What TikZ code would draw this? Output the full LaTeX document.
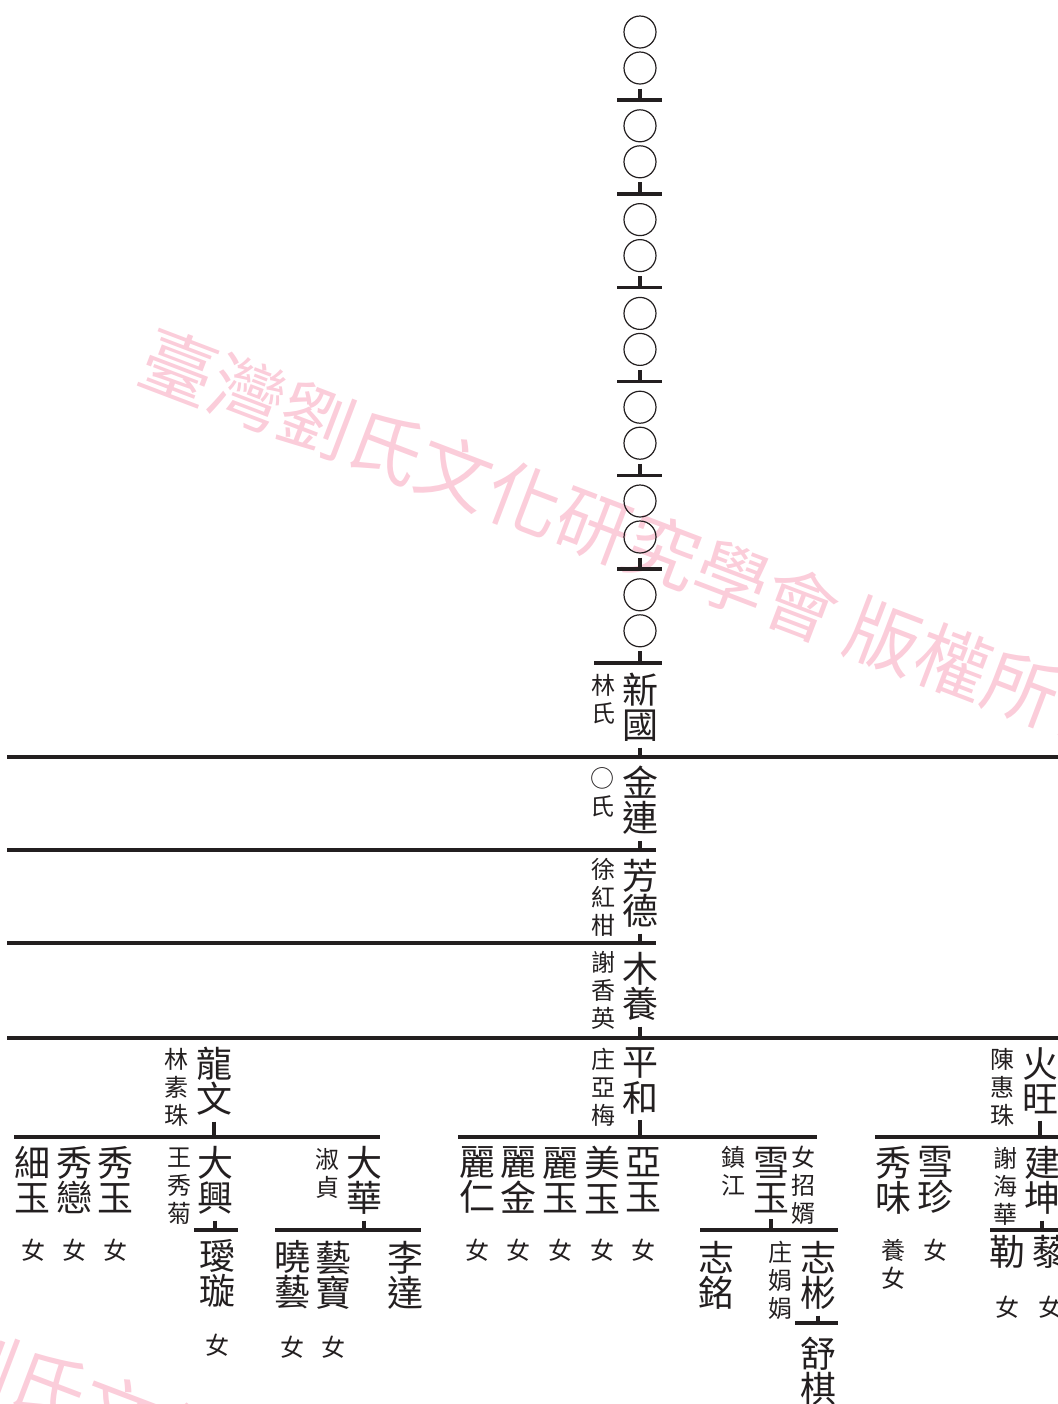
\documentclass[tikz,border=0pt]{standalone}
\usepackage{fontspec}
\setmainfont{Noto Sans CJK TC}
\usetikzlibrary{calc}
\definecolor{wmpink}{RGB}{251,205,218}
\definecolor{inkblack}{RGB}{35,31,32}
\tikzset{
    person/.style={font=\fontsize{18}{17.6}\selectfont, align=center, inner sep=1pt, text=inkblack},
    mate/.style={font=\fontsize{12}{14}\selectfont, align=center, inner sep=1pt, text=inkblack},
    ring/.style={circle, draw=inkblack, line width=0.6pt, minimum size=16pt, inner sep=0pt},
    genline/.style={draw=inkblack, line width=1.7pt},
    stem/.style={draw=inkblack, line width=1.7pt, shorten <=2pt},
    wmark/.style={font=\fontsize{37}{37}\selectfont, text=wmpink, rotate=-20.85, anchor=west, inner sep=0pt},
}

\begin{document}
\begin{tikzpicture}[x=0.5pt, y=-0.5pt]
\useasboundingbox (0,0) rectangle (1058,1404);
\clip (0,0) rectangle (1058,1404);

% watermark
\node[wmark] (wm1) at (144,354) {臺灣劉氏文化研究學會\hspace{0.2em}版權所有};
\node[wmark] (wm2) at (-193,1294) {臺灣劉氏文化研究學會\hspace{0.2em}版權所有};

% unknown ancestors
\foreach \k in {0,...,6} {
    \pgfmathsetmacro\by{100+93.8*\k}
    \pgfmathsetmacro\bx{ifthenelse(\k==6,594,617)}
    \node[ring] (ca\k) at (640,\by-68) {};
    \node[ring] (cb\k) at (640,\by-32) {};
    \coordinate (bl\k) at (\bx,\by);
    \coordinate (br\k) at (662,\by);
    \draw[genline] (bl\k) -- (br\k);
    \draw[stem] (cb\k) -- (cb\k |- bl\k);
}

% main line
\node[person] (xinguo) at (640,707) {新\\國};
\node[mate] (linshi) at (603,699) {林\\氏};
\coordinate (g1l) at (7,757); \coordinate (g1r) at (1060,757);
\draw[genline] (g1l) -- (g1r);
\draw[stem] (xinguo) -- (xinguo |- g1l);

\node[person] (jinlian) at (640,800) {金\\連};
\node[mate] (moushi) at (602,792) {○\\氏};
\coordinate (g2l) at (7,850); \coordinate (g2r) at (656,850);
\draw[genline] (g2l) -- (g2r);
\draw[stem] (jinlian) -- (jinlian |- g2l);

\node[person] (fangde) at (640,893) {芳\\德};
\node[mate] (xuhonggan) at (603,897) {徐\\紅\\柑};
\coordinate (g3l) at (7,943); \coordinate (g3r) at (656,943);
\draw[genline] (g3l) -- (g3r);
\draw[stem] (fangde) -- (fangde |- g3l);

\node[person] (muyang) at (640,986) {木\\養};
\node[mate] (xiexiangying) at (603,990) {謝\\香\\英};
\coordinate (g4l) at (7,1038); \coordinate (g4r) at (1060,1038);
\draw[genline] (g4l) -- (g4r);
\draw[stem] (muyang) -- (muyang |- g4l);

% longwen branch
\node[person] (longwen) at (214,1081) {龍\\文};
\node[mate] (linsuzhu) at (176,1087) {林\\素\\珠};
\coordinate (f1l) at (14,1137); \coordinate (f1r) at (380,1137);
\draw[genline] (f1l) -- (f1r);
\draw[stem] (longwen) -- (longwen |- f1l);

\node[person] (xiyu) at (33,1180) {細\\玉};
\node[person] (xiulian) at (74,1180) {秀\\戀};
\node[person] (xiuyu) at (115,1180) {秀\\玉};
\node[mate] (nv1) at (33,1250) {女};
\node[mate] (nv2) at (74,1250) {女};
\node[mate] (nv3) at (115,1250) {女};

\node[person] (daxing) at (215,1180) {大\\興};
\node[mate] (wangxiuju) at (179,1186) {王\\秀\\菊};
\coordinate (h1l) at (194,1230); \coordinate (h1r) at (238,1230);
\draw[genline] (h1l) -- (h1r);
\draw[stem] (daxing) -- (daxing |- h1l);
\node[person] (aixuan) at (217,1273) {璦\\璇};
\node[mate] (nv4) at (217,1345) {女};

\node[person] (dahua) at (364,1180) {大\\華};
\node[mate] (shuzhen) at (327,1173) {淑\\貞};
\coordinate (h2l) at (275,1230); \coordinate (h2r) at (421,1230);
\draw[genline] (h2l) -- (h2r);
\draw[stem] (dahua) -- (dahua |- h2l);
\node[person] (xiaoyi) at (292,1275) {曉\\藝};
\node[person] (yibao) at (333,1275) {藝\\寶};
\node[person] (lida) at (405,1275) {李\\達};
\node[mate] (nv5) at (292,1347) {女};
\node[mate] (nv6) at (333,1347) {女};

% pinghe branch
\node[person] (pinghe) at (640,1081) {平\\和};
\node[mate] (zhuangyamei) at (603,1087) {庄\\亞\\梅};
\coordinate (f2l) at (458,1137); \coordinate (f2r) at (817,1137);
\draw[genline] (f2l) -- (f2r);
\draw[stem] (pinghe) -- (pinghe |- f2l);

\node[person] (liren) at (477,1180) {麗\\仁};
\node[person] (lijin) at (518,1180) {麗\\金};
\node[person] (liyu) at (560,1180) {麗\\玉};
\node[person] (meiyu) at (602,1180) {美\\玉};
\node[person] (yayu) at (643,1180) {亞\\玉};
\node[mate] (nv7) at (477,1250) {女};
\node[mate] (nv8) at (518,1250) {女};
\node[mate] (nv9) at (560,1250) {女};
\node[mate] (nv10) at (602,1250) {女};
\node[mate] (nv11) at (643,1250) {女};

\node[person] (xueyu) at (771,1180) {雪\\玉};
\node[mate] (zhenjiang) at (733,1171) {鎮\\江};
\node[mate] (zhaoxu) at (803,1185) {女\\招\\婿};
\coordinate (h3l) at (700,1230); \coordinate (h3r) at (838,1230);
\draw[genline] (h3l) -- (h3r);
\draw[stem] (xueyu) -- (xueyu |- h3l);
\node[person] (zhiming) at (716,1275) {志\\銘};
\node[person] (zhibin) at (818,1275) {志\\彬};
\node[mate] (zhuangjuanjuan) at (780,1280) {庄\\娟\\娟};
\coordinate (k1l) at (795,1323); \coordinate (k1r) at (838,1323);
\draw[genline] (k1l) -- (k1r);
\draw[stem] (zhibin) -- (zhibin |- k1l);
\node[person] (shuqi) at (818,1371) {舒\\棋};

% huowang branch
\node[person] (huowang) at (1040,1081) {火\\旺};
\node[mate] (chenhuizhu) at (1002,1087) {陳\\惠\\珠};
\coordinate (f3l) at (875,1137); \coordinate (f3r) at (1060,1137);
\draw[genline] (f3l) -- (f3r);
\draw[stem] (huowang) -- (huowang |- f3l);

\node[person] (xiuwei) at (893,1180) {秀\\味};
\node[person] (xuezhen) at (935,1180) {雪\\珍};
\node[mate] (yangnv) at (893,1264) {養\\女};
\node[mate] (nv12) at (935,1250) {女};

\node[person] (jiankun) at (1042,1180) {建\\坤};
\node[mate] (xiehaihua) at (1005,1186) {謝\\海\\華};
\coordinate (h4l) at (990,1230); \coordinate (h4r) at (1060,1230);
\draw[genline] (h4l) -- (h4r);
\draw[stem] (jiankun) -- (jiankun |- h4l);
\node[person] (le) at (1007,1252) {勒};
\node[person] (li) at (1050,1252) {藜};
\node[mate] (nv13) at (1007,1307) {女};
\node[mate] (nv14) at (1050,1307) {女};

\end{tikzpicture}
\end{document}
